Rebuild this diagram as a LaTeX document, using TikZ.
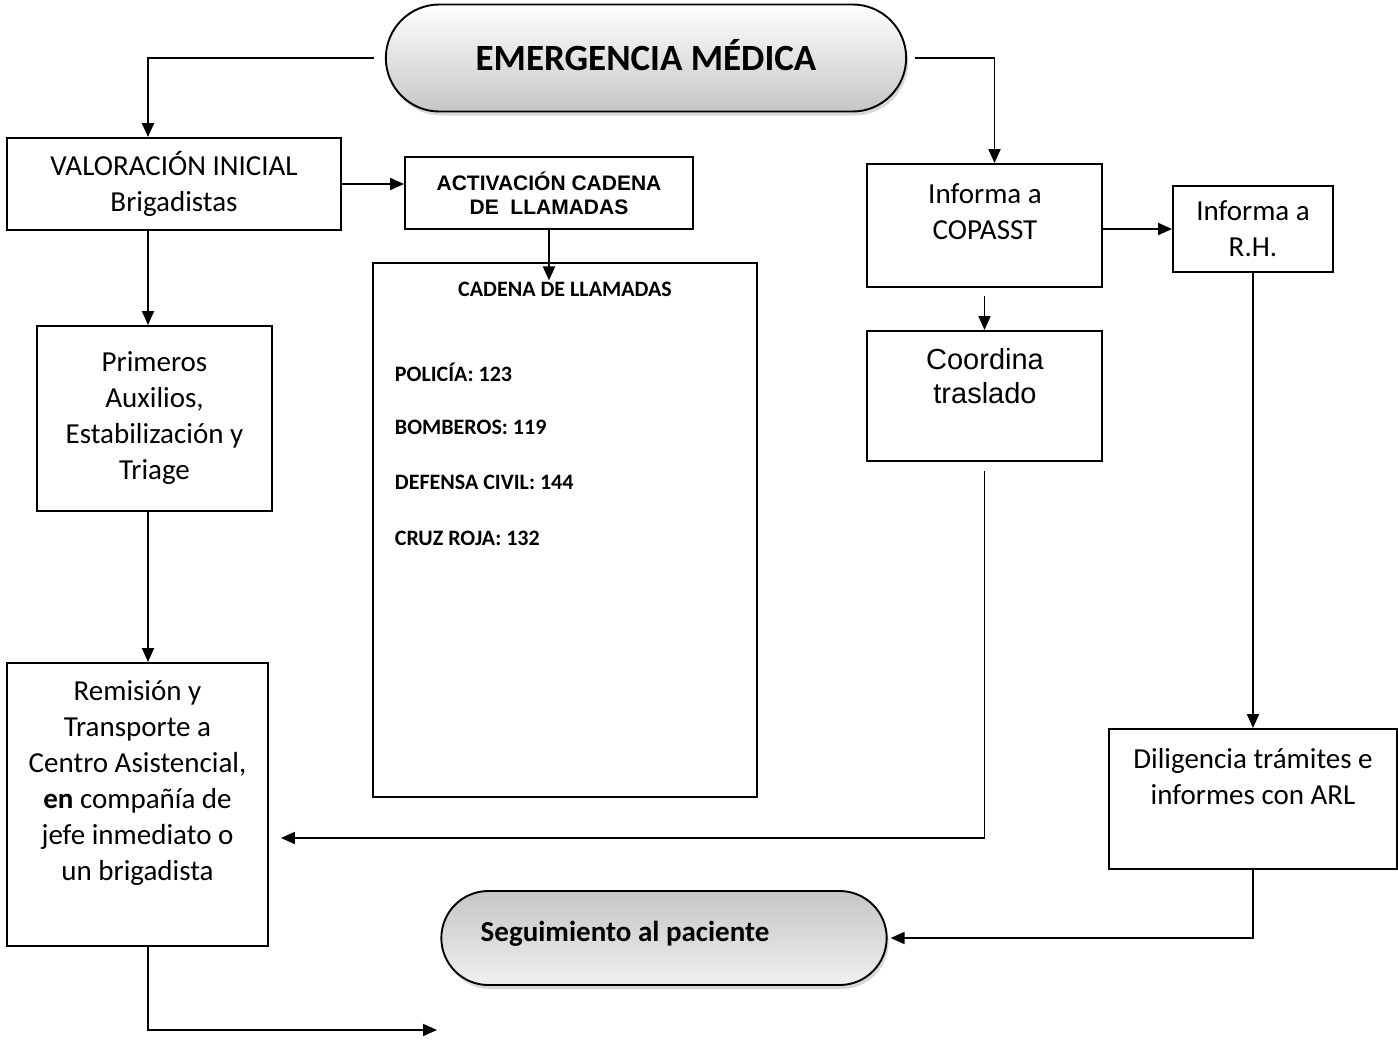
\documentclass[tikz,border=0pt]{standalone}
\usepackage{fontspec}
\setmainfont{Carlito}
\newfontfamily\arialfont{Liberation Sans}
\usetikzlibrary{arrows.meta, shapes.misc, shadows}

\begin{document}
\begin{tikzpicture}[
        x = 1pt, y = -1pt,
        >= {Triangle[length = 14pt, width = 12pt]},
        line width = 1.9pt,
        box/.style = {draw, rectangle, inner sep = 0pt, align = center},
        body/.style = {font = \fontsize{29}{36}\selectfont},
        capsule/.style = {draw, rounded rectangle, top color = white, bottom color = gray!45,
            drop shadow = {opacity = 0.3, shadow xshift = 2pt, shadow yshift = -4pt}},
        phone/.style = {anchor = west, inner sep = 0pt, font = \fontsize{22}{26}\selectfont\bfseries}
    ]

        \path[use as bounding box, fill = white] (0, 0) rectangle (1398, 1045);

        % top and bottom capsules
        \node[capsule, minimum width = 527pt, minimum height = 107pt, text height = 24pt, text depth = 0pt,
            font = \fontsize{37}{44}\selectfont\bfseries] (emerg) at (646, 58) {EMERGENCIA MÉDICA};
        \node[capsule, minimum width = 452pt, minimum height = 94pt,
            top color = gray!45, bottom color = gray!12] (seguim) at (664, 938) {};
        \node[font = \fontsize{29}{34}\selectfont\bfseries] (seguimtxt) at (625, 934) {Seguimiento al paciente};

        % left column
        \node[box, body, minimum width = 334pt, minimum height = 92pt] (valor) at (174, 184) {VALORACIÓN INICIAL\\Brigadistas};
        \node[box, body, minimum width = 235pt, minimum height = 185pt] (primeros) at (154.5, 418.5) {Primeros\\Auxilios,\\Estabilización y\\Triage};
        \node[box, minimum width = 261pt, minimum height = 283pt] (remision) at (137.5, 804.5) {};
        \node[body, align = center] (remisiontxt) at (137.5, 783) {Remisión y\\Transporte a\\Centro Asistencial,\\\textbf{en} compañía de\\jefe inmediato o\\un brigadista};
        \coordinate (salida) at (437, 1030);

        % call chain
        \node[box, minimum width = 288pt, minimum height = 72pt,
            font = \arialfont\bfseries\fontsize{21}{24}\selectfont] (activ) at (549, 193) {ACTIVACIÓN CADENA\\DE \ LLAMADAS};
        \node[box, minimum width = 384pt, minimum height = 534pt] (cadena) at (565, 530) {};
        \node[font = \fontsize{22}{26}\selectfont\bfseries] (cadenatit) at (565, 289) {CADENA DE LLAMADAS};
        \node[phone] (policia) at (394, 372) {POLICÍA: 123};
        \node[phone] (bomberos) at (394, 427) {BOMBEROS: 119};
        \node[phone] (defensa) at (394, 482) {DEFENSA CIVIL: 144};
        \node[phone] (cruzroja) at (394, 538) {CRUZ ROJA: 132};

        % right side
        \node[box, minimum width = 235pt, minimum height = 123pt] (copasst) at (984.5, 225.5) {};
        \node[body, align = center] (copassttxt) at (985, 211.5) {Informa a\\COPASST};
        \node[box, body, minimum width = 160pt, minimum height = 86pt] (rh) at (1253, 229) {Informa a\\R.H.};
        \node[box, minimum width = 235pt, minimum height = 130pt] (coordina) at (984.5, 396) {};
        \node[align = center, font = \arialfont\fontsize{29}{34}\selectfont] (coordinatxt) at (985, 376) {Coordina\\traslado};
        \node[box, minimum width = 288pt, minimum height = 140pt] (dilig) at (1253, 799) {};
        \node[body, align = center] (diligtxt) at (1253, 776.5) {Diligencia trámites e\\informes con ARL};

        \draw[->] ([xshift = -11pt]emerg.west) -| ([xshift = -26pt]valor.north);
        \draw[->] ([xshift = 8pt]emerg.east) -| ([xshift = 10pt]copasst.north);
        \draw[->] (valor.east) -- (valor.east -| activ.west);
        \draw[->] (activ.south) -- ([yshift = -3pt]activ.south |- cadenatit.north);
        \draw[->] ([xshift = -26pt]valor.south) -- ([xshift = -26pt]valor.south |- primeros.north);
        \draw[->] ([xshift = -6.5pt]primeros.south) -- ([xshift = -6.5pt]primeros.south |- remision.north);
        \draw[->] ([xshift = 10.5pt]remision.south) |- (salida);
        \draw[->] (copasst.east |- rh.west) -- (rh.west);
        \draw[->] ([yshift = -8pt]copasst.south) -- (coordina.north);
        \draw[->] ([yshift = -9pt]coordina.south) |- ([xshift = 12pt, yshift = -33.5pt]remision.east);
        \draw[->] (rh.south) -- (dilig.north);
        \draw[->] (dilig.south) |- ([xshift = 3pt]seguim.east);

\end{tikzpicture}
\end{document}
